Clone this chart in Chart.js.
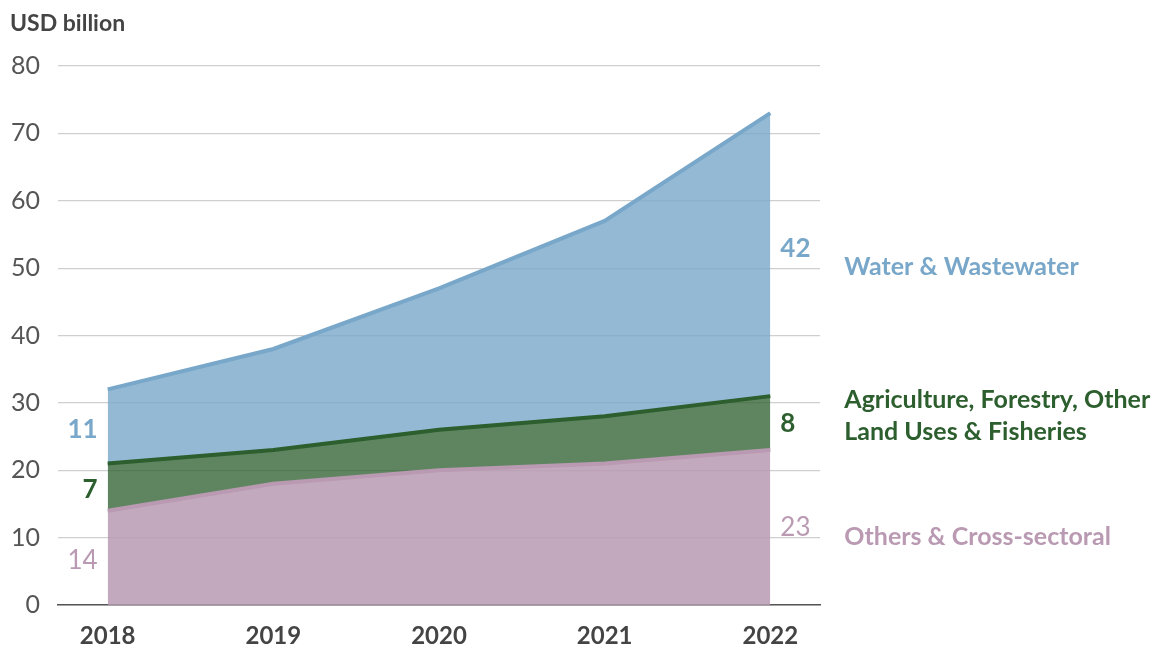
<!DOCTYPE html>
<html lang="en">
<head>
  <meta charset="UTF-8">
  <title>Finance by sector</title>
  <script src="https://cdn.jsdelivr.net/npm/chart.js"></script>
  <style>
    body { margin: 0; background: #fff; }
    .chart-box { width: 1163px; height: 647px; position: relative; }
  </style>
</head>
<body>

<div class="chart-box">
  <canvas id="sectorChart"></canvas>
</div>

<script>
  // years and values (USD billion)
  const years = [2018, 2019, 2020, 2021, 2022];
  const others = [14, 18, 20, 21, 23];
  const agriculture = [7, 5, 6, 7, 8];
  const water = [11, 15, 21, 29, 42];
  const yTicks = [0, 10, 20, 30, 40, 50, 60, 70, 80];

  const seriesNames = ['Others & Cross-sectoral', 'Agriculture, Forestry, Other\nLand Uses & Fisheries', 'Water & Wastewater'];
  const lineColors = ['#b99ab2', '#2c5e2e', '#78a7c9'];
  const fillColors = ['rgba(185, 154, 178, 0.85)', 'rgba(44, 94, 46, 0.76)', 'rgba(120, 167, 201, 0.80)'];

  const FONT = 'Lato, "Open Sans", sans-serif';

  function points(vals) {
    return vals.map((v, i) => ({ x: years[i], y: v }));
  }

  const seriesVals = [others, agriculture, water];

  // value labels beside first/last year + series names on the right
  const labelPlugin = {
    id: 'sideLabels',
    afterDraw(chart) {
      const ctx = chart.ctx;
      const xs = chart.scales.x, ys = chart.scales.y;
      const first = xs.getPixelForValue(years[0]);
      const last = xs.getPixelForValue(years[years.length - 1]);
      ctx.save();
      ctx.textBaseline = 'middle';

      ctx.fillStyle = '#444';
      ctx.font = 'bold 23px ' + FONT;
      ctx.textAlign = 'left';
      ctx.fillText('USD billion', 10, 24);

      let baseFirst = 0, baseLast = 0;
      const weights = ['normal', 'bold', 'bold'];
      const nudgeRight = [0, 1, -6];
      seriesVals.forEach((vals, i) => {
        const v0 = vals[0], v1 = vals[vals.length - 1];
        const y0 = ys.getPixelForValue(baseFirst + v0 / 2);
        const y1 = ys.getPixelForValue(baseLast + v1 / 2);
        ctx.fillStyle = lineColors[i];
        ctx.font = weights[i] + ' 26px ' + FONT;
        ctx.textAlign = 'right';
        ctx.fillText(String(v0), first - 10, y0 + 3);
        ctx.textAlign = 'left';
        ctx.fillText(String(v1), last + 10, y1 + nudgeRight[i]);

        // series name
        ctx.font = 'bold 25px ' + FONT;
        const lines = seriesNames[i].split('\n');
        const nameY = [537, 416, 267][i];
        lines.forEach((ln, k) => {
          ctx.fillText(ln, last + 74, nameY + (k - (lines.length - 1) / 2) * 32);
        });

        baseFirst += v0;
        baseLast += v1;
      });
      ctx.restore();
    }
  };

  new Chart(document.getElementById('sectorChart'), {
    type: 'line',
    data: {
      datasets: seriesVals.map((vals, i) => ({
        label: seriesNames[i],
        data: points(vals),
        borderColor: lineColors[i],
        backgroundColor: fillColors[i],
        borderWidth: 4,
        pointRadius: 0,
        tension: 0,
        fill: i === 0 ? 'origin' : '-1'
      }))
    },
    options: {
      responsive: true,
      maintainAspectRatio: false,
      animation: false,
      layout: { padding: { top: 66, right: 343, left: 0, bottom: 0 } },
      plugins: {
        legend: { display: false },
        tooltip: { enabled: false }
      },
      scales: {
        x: {
          type: 'linear',
          min: 2017.7,
          max: 2022.3,
          afterBuildTicks: (scale) => { scale.ticks = years.map(v => ({ value: v })); },
          afterFit: (scale) => { scale.height = 42; },
          grid: { display: false, drawTicks: false },
          border: { display: true, color: '#555', width: 1.5 },
          ticks: {
            padding: 17,
            color: '#444',
            font: { family: FONT, size: 24, weight: 'bold' },
            callback: (v) => String(v)
          }
        },
        y: {
          stacked: true,
          min: 0,
          max: 80,
          afterBuildTicks: (scale) => { scale.ticks = yTicks.map(v => ({ value: v })); },
          afterFit: (scale) => { scale.width = 58; },
          grid: { color: '#cfcfcf', lineWidth: 1.2, drawTicks: false },
          border: { display: false },
          ticks: {
            padding: 18,
            color: '#555',
            font: { family: FONT, size: 25 }
          }
        }
      }
    },
    plugins: [labelPlugin]
  });
</script>

</body>
</html>
